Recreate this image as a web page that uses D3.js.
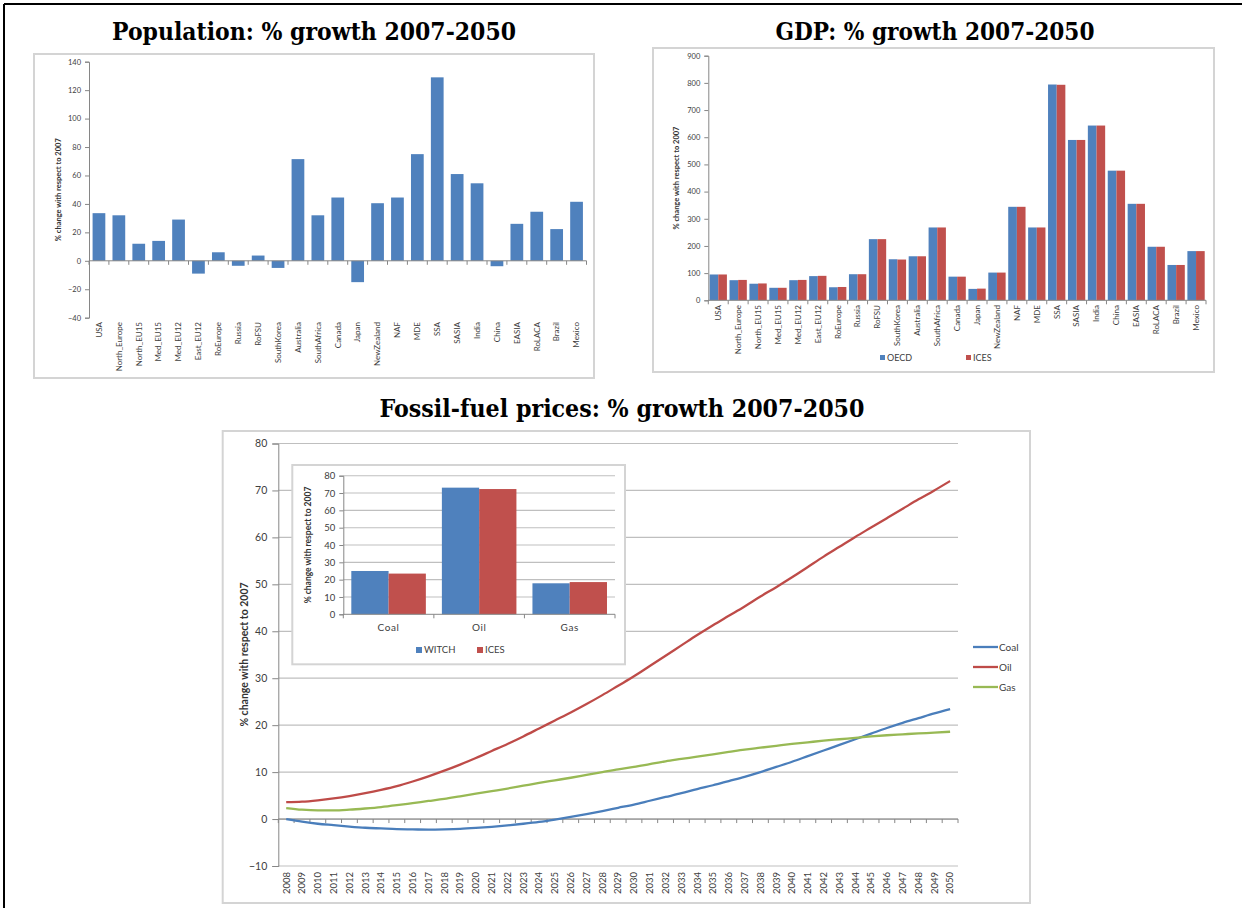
<!DOCTYPE html>
<html><head><meta charset="utf-8">
<script src="https://cdn.jsdelivr.net/npm/d3@7"></script>
<style>
body{margin:0;background:#fff}
svg{display:block}
text{font-family:Lato,"Open Sans",sans-serif}
.title{font-family:"DejaVu Serif",serif;font-weight:bold;fill:#000}
</style></head><body>
<svg id="c" width="1242" height="908"></svg>
<script>
// ---------- DATA ----------
const regions = ["USA","North_Europe","North_EU15","Med_EU15","Med_EU12","East_EU12","RoEurope","Russia","RoFSU","SouthKorea","Australia","SouthAfrica","Canada","Japan","NewZealand","NAF","MDE","SSA","SASIA","India","China","EASIA","RoLACA","Brazil","Mexico"];
const popGrowth = [33.5,32,12,14,29,-9,6,-3.5,3.7,-5,71.5,32,44.5,-15,40.5,44.5,75,129,61,54.5,-3.8,26,34.5,22.3,41.5];
const popTicks = [-40,-20,0,20,40,60,80,100,120,140];

const gdpOECD = [95,74,61,46,74,89,48,96,225,151,162,268,87,42,102,344,268,794,590,643,477,355,197,130,181];
const gdpICES = [95,75,62,46,75,90,49,96,225,150,162,268,87,43,102,344,268,793,590,643,477,355,197,130,181];
const gdpTicks = [0,100,200,300,400,500,600,700,800,900];
const gdpSeries = ["OECD","ICES"];

const fuels = ["Coal","Oil","Gas"];
const fuelWITCH = [25.0,73.1,17.9];
const fuelICES = [23.5,72.3,18.6];
const insetSeries = ["WITCH","ICES"];
const insetTicks = [0,10,20,30,40,50,60,70,80];

const years = [2008,2009,2010,2011,2012,2013,2014,2015,2016,2017,2018,2019,2020,2021,2022,2023,2024,2025,2026,2027,2028,2029,2030,2031,2032,2033,2034,2035,2036,2037,2038,2039,2040,2041,2042,2043,2044,2045,2046,2047,2048,2049,2050];
const coal = [0.0,-0.55,-1.0,-1.3,-1.6,-1.85,-2.0,-2.15,-2.2,-2.25,-2.2,-2.1,-1.9,-1.65,-1.35,-1.0,-0.6,-0.1,0.45,1.05,1.7,2.4,3.1,3.9,4.7,5.5,6.4,7.2,8.1,9.0,10.0,11.1,12.2,13.4,14.6,15.8,17.0,18.2,19.4,20.5,21.5,22.5,23.4];
const oil = [3.6,3.7,4.0,4.4,4.9,5.5,6.2,7.0,8.0,9.1,10.3,11.6,13.0,14.5,16.0,17.6,19.3,21.0,22.7,24.5,26.4,28.4,30.4,32.6,34.8,37.0,39.2,41.3,43.3,45.3,47.4,49.4,51.5,53.7,55.9,58.0,60.1,62.1,64.1,66.1,68.1,70.0,72.0];
const gas = [2.35,2.0,1.85,1.85,2.0,2.25,2.55,2.95,3.4,3.85,4.3,4.85,5.4,5.95,6.5,7.1,7.7,8.25,8.8,9.4,10.0,10.6,11.1,11.7,12.3,12.8,13.3,13.8,14.3,14.8,15.2,15.6,16.0,16.35,16.7,17.0,17.3,17.6,17.85,18.05,18.25,18.4,18.6];
const mainTicks = [-10,0,10,20,30,40,50,60,70,80];
const fuelNames = ["Coal","Oil","Gas"];

// ---------- STYLE ----------
const BLUE = "#4f81bd", RED = "#c0504d";
const LINE_COL = {Coal:"#4a7ebb", Oil:"#be4b48", Gas:"#98b954"};
const AXIS = "#868686", GRID = "#bfbfbf", FRAME = "#d4d4d4", TXT = "#404040";

const svg = d3.select("#c");

// page border
svg.append("line").attr("x1",4).attr("x2",1242).attr("y1",4).attr("y2",4).attr("stroke","#000").attr("stroke-width",2);
svg.append("line").attr("x1",4).attr("x2",4).attr("y1",4).attr("y2",908).attr("stroke","#000").attr("stroke-width",2);

// titles
function title(x,y,w,t){
  svg.append("text").attr("class","title").attr("x",x).attr("y",y).attr("text-anchor","middle")
    .attr("font-size",24).attr("textLength",w).attr("lengthAdjust","spacingAndGlyphs").text(t);
}
title(314,40,404,"Population: % growth 2007-2050");
title(935,40,319,"GDP: % growth 2007-2050");
title(622,417,485,"Fossil-fuel prices: % growth 2007-2050");

function frame(x0,y0,x1,y1,fill){
  svg.append("rect").attr("x",x0).attr("y",y0).attr("width",x1-x0).attr("height",y1-y0)
    .attr("fill",fill||"#fff").attr("stroke",FRAME).attr("stroke-width",2);
}
function styleAxis(g,fs){
  g.select(".domain").attr("stroke",AXIS);
  g.selectAll(".tick line").attr("stroke",AXIS);
  g.selectAll(".tick text").attr("fill",TXT).attr("font-size",fs).attr("font-family","Lato,sans-serif");
}
function catTicks(x, cats, y0, len){
  const pos = cats.map(c=>x(c)).concat([x(cats[cats.length-1])+x.step()]);
  svg.append("g").selectAll("line").data(pos).join("line")
    .attr("x1",d=>d).attr("x2",d=>d).attr("y1",y0).attr("y2",y0+len).attr("stroke",AXIS);
}
function rotLabels(x, cats, yTop, fs){
  svg.append("g").selectAll("text").data(cats).join("text")
    .attr("transform",d=>`translate(${x(d)+x.bandwidth()/2},${yTop}) rotate(-90)`)
    .attr("text-anchor","end").attr("dy","0.35em").attr("font-size",fs).attr("fill",TXT).text(d=>d);
}
function yTitle(xc,yc,fs,txt){
  svg.append("text").attr("transform",`translate(${xc},${yc}) rotate(-90)`).attr("text-anchor","middle")
    .attr("dy","0.35em").attr("font-size",fs).attr("font-weight","bold").attr("fill","#333").text(txt);
}

// ---------- POPULATION ----------
frame(34,54,594,378);
{
  const x = d3.scaleBand().domain(regions).range([89,586.5]).padding(0);
  const y = d3.scaleLinear().domain([-40,140]).range([317.7,61.7]);
  const bw = x.bandwidth();
  svg.append("g").selectAll("rect").data(regions).join("rect")
    .attr("x",d=>x(d)+bw*0.18).attr("width",bw*0.64)
    .attr("y",(d,i)=>y(Math.max(0,popGrowth[i])))
    .attr("height",(d,i)=>Math.abs(y(popGrowth[i])-y(0)))
    .attr("fill",BLUE);
  const ya = svg.append("g").attr("transform","translate(89,0)")
    .call(d3.axisLeft(y).tickValues(popTicks).tickSize(4).tickPadding(4));
  styleAxis(ya,7.5);
  svg.append("line").attr("x1",89).attr("x2",586.5).attr("y1",y(0)).attr("y2",y(0)).attr("stroke",AXIS);
  catTicks(x,regions,y(0),4);
  rotLabels(x,regions,322,8);
  yTitle(58,189.7,7.5,"% change with respect to 2007");
}

// ---------- GDP ----------
frame(653,48,1214,372);
{
  const x = d3.scaleBand().domain(regions).range([708.3,1206]).padding(0);
  const xs = d3.scaleBand().domain(gdpSeries).range([0,x.bandwidth()]).paddingOuter(0.15).paddingInner(0);
  const y = d3.scaleLinear().domain([0,900]).range([300.3,55.7]);
  const data = regions.map((r,i)=>({r, vals:[gdpOECD[i],gdpICES[i]]}));
  const g = svg.append("g");
  g.selectAll("g").data(data).join("g").attr("transform",d=>`translate(${x(d.r)},0)`)
    .selectAll("rect").data(d=>d.vals.map((v,j)=>({s:gdpSeries[j],v}))).join("rect")
    .attr("x",d=>xs(d.s)).attr("width",xs.bandwidth())
    .attr("y",d=>y(d.v)).attr("height",d=>y(0)-y(d.v))
    .attr("fill",d=>d.s==="OECD"?BLUE:RED);
  const ya = svg.append("g").attr("transform","translate(708.3,0)")
    .call(d3.axisLeft(y).tickValues(gdpTicks).tickSize(4).tickPadding(4));
  styleAxis(ya,7.5);
  svg.append("line").attr("x1",708.3).attr("x2",1206).attr("y1",y(0)).attr("y2",y(0)).attr("stroke",AXIS);
  catTicks(x,regions,y(0),4);
  rotLabels(x,regions,305,8);
  yTitle(676,178,7.5,"% change with respect to 2007");
  const lg = svg.append("g");
  [[880,"OECD",BLUE],[966,"ICES",RED]].forEach(([lx,t,c])=>{
    lg.append("rect").attr("x",lx).attr("y",355).attr("width",5).attr("height",5).attr("fill",c);
    lg.append("text").attr("x",lx+7).attr("y",358).attr("dy","0.35em").attr("font-size",9).attr("fill",TXT).text(t);
  });
}

// ---------- FOSSIL FUEL MAIN ----------
frame(222.7,431,1030,903);
{
  const x = d3.scaleBand().domain(years).range([278.3,958]).padding(0);
  const y = d3.scaleLinear().domain([-10,80]).range([866,443.5]);
  const cx = d=>x(d)+x.bandwidth()/2;
  svg.append("g").selectAll("line").data(mainTicks).join("line")
    .attr("x1",278.3).attr("x2",958).attr("y1",d=>y(d)).attr("y2",d=>y(d))
    .attr("stroke",GRID).attr("stroke-width",1.2);
  const ya = svg.append("g").attr("transform","translate(278.3,0)")
    .call(d3.axisLeft(y).tickValues(mainTicks).tickSize(6).tickPadding(5));
  styleAxis(ya,10.5);
  svg.append("line").attr("x1",278.3).attr("x2",958).attr("y1",y(0)).attr("y2",y(0)).attr("stroke",AXIS);
  catTicks(x,years,y(0),4);
  rotLabels(x,years,872,9.5);
  yTitle(244,654.5,10.5,"% change with respect to 2007");
  const series = {Coal:coal, Oil:oil, Gas:gas};
  const line = d3.line().x((d,i)=>cx(years[i])).y(d=>y(d)).curve(d3.curveMonotoneX);
  fuelNames.forEach(f=>{
    svg.append("path").attr("d",line(series[f])).attr("fill","none")
      .attr("stroke",LINE_COL[f]).attr("stroke-width",2.3).attr("stroke-linejoin","round");
  });
  fuelNames.forEach((f,i)=>{
    const ly = 647 + i*20;
    svg.append("line").attr("x1",973).attr("x2",998).attr("y1",ly).attr("y2",ly).attr("stroke",LINE_COL[f]).attr("stroke-width",2.3);
    svg.append("text").attr("x",999).attr("y",ly).attr("dy","0.35em").attr("font-size",10).attr("fill",TXT).text(f);
  });
}

// ---------- INSET ----------
frame(292.3,465,625,664.3,"#fff");
{
  const x = d3.scaleBand().domain(fuels).range([343.3,615]).padding(0);
  const xs = d3.scaleBand().domain(insetSeries).range([0,x.bandwidth()]).paddingOuter(0.215).paddingInner(0);
  const y = d3.scaleLinear().domain([0,80]).range([614.3,475.7]);
  svg.append("g").selectAll("line").data(insetTicks.slice(1)).join("line")
    .attr("x1",343.3).attr("x2",615).attr("y1",d=>y(d)).attr("y2",d=>y(d))
    .attr("stroke",GRID).attr("stroke-width",1.1);
  const data = fuels.map((f,i)=>({f, vals:[fuelWITCH[i],fuelICES[i]]}));
  svg.append("g").selectAll("g").data(data).join("g").attr("transform",d=>`translate(${x(d.f)},0)`)
    .selectAll("rect").data(d=>d.vals.map((v,j)=>({s:insetSeries[j],v}))).join("rect")
    .attr("x",d=>xs(d.s)).attr("width",xs.bandwidth())
    .attr("y",d=>y(d.v)).attr("height",d=>y(0)-y(d.v))
    .attr("fill",d=>d.s==="WITCH"?BLUE:RED);
  const ya = svg.append("g").attr("transform","translate(343.3,0)")
    .call(d3.axisLeft(y).tickValues(insetTicks).tickSize(4).tickPadding(4));
  styleAxis(ya,9.5);
  svg.append("line").attr("x1",343.3).attr("x2",615).attr("y1",y(0)).attr("y2",y(0)).attr("stroke",AXIS);
  catTicks(x,fuels,y(0),4);
  svg.append("g").selectAll("text").data(fuels).join("text")
    .attr("x",d=>x(d)+x.bandwidth()/2).attr("y",631).attr("text-anchor","middle")
    .attr("font-size",10).attr("letter-spacing","0.6px").attr("fill",TXT).text(d=>d);
  yTitle(308,545,8.5,"% change with respect to 2007");
  [[416,"WITCH",BLUE],[477,"ICES",RED]].forEach(([lx,t,c])=>{
    svg.append("rect").attr("x",lx).attr("y",647).attr("width",6).attr("height",6).attr("fill",c);
    svg.append("text").attr("x",lx+8).attr("y",650).attr("dy","0.35em").attr("font-size",9.5).attr("fill",TXT).text(t);
  });
}
</script>
</body></html>
